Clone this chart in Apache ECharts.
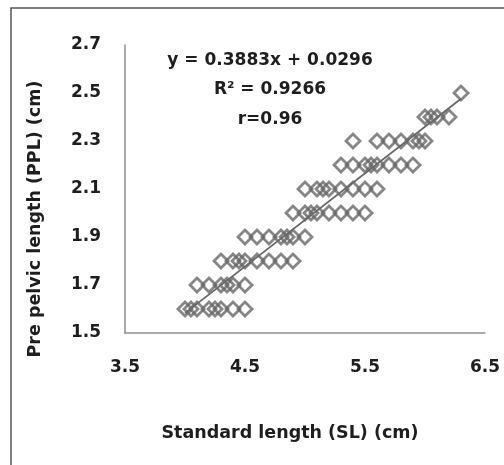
<!DOCTYPE html>
<html>
<head>
<meta charset="utf-8">
<script src="https://cdn.jsdelivr.net/npm/echarts@6/dist/echarts.min.js"></script>
<style>
  html, body { margin: 0; padding: 0; background: #fff; }
  #chart { width: 504px; height: 465px; }
</style>
</head>
<body>
<div id="chart"></div>
<script>
// standard length (SL) and pre pelvic length (PPL), cm, read row by row
var slValues = [
    4.0, 4.05, 4.1, 4.2, 4.25, 4.3, 4.4, 4.5,
    4.1, 4.2, 4.3, 4.35, 4.4, 4.5,
    4.3, 4.4, 4.45, 4.5, 4.6, 4.7, 4.8, 4.9,
    4.5, 4.6, 4.7, 4.8, 4.85, 4.9, 5.0,
    4.9, 5.0, 5.05, 5.1, 5.2, 5.3, 5.4, 5.5,
    5.0, 5.1, 5.15, 5.2, 5.3, 5.4, 5.5, 5.6,
    5.3, 5.4, 5.5, 5.55, 5.6, 5.7, 5.8, 5.9,
    5.4, 5.6, 5.7, 5.8, 5.9, 5.95, 6.0,
    6.0, 6.05, 6.1, 6.2,
    6.3
];
var pplValues = [
    1.6, 1.6, 1.6, 1.6, 1.6, 1.6, 1.6, 1.6,
    1.7, 1.7, 1.7, 1.7, 1.7, 1.7,
    1.8, 1.8, 1.8, 1.8, 1.8, 1.8, 1.8, 1.8,
    1.9, 1.9, 1.9, 1.9, 1.9, 1.9, 1.9,
    2.0, 2.0, 2.0, 2.0, 2.0, 2.0, 2.0, 2.0,
    2.1, 2.1, 2.1, 2.1, 2.1, 2.1, 2.1, 2.1,
    2.2, 2.2, 2.2, 2.2, 2.2, 2.2, 2.2, 2.2,
    2.3, 2.3, 2.3, 2.3, 2.3, 2.3, 2.3,
    2.4, 2.4, 2.4, 2.4,
    2.5
];
// linear trendline as printed on the chart
var slope = 0.3883;
var intercept = 0.0296;
var trendX = [4.0, 6.3];
var annotLines = ["y = 0.3883x + 0.0296", "R\u00b2 = 0.9266", "r=0.96"];

var xTitle = "Standard length (SL) (cm)";
var yTitle = "Pre pelvic length (PPL) (cm)";

var FONT = "'DejaVu Sans'";
var GREY = "#686868";
var INK = "#1e1e1e";

var points = slValues.map(function (x, i) { return [x, pplValues[i]]; });
var trend = trendX.map(function (x) { return [x, slope * x + intercept]; });

var chart = echarts.init(document.getElementById("chart"));
chart.setOption({
    backgroundColor: "#fff",
    animation: false,
    grid: { left: 125, right: 19, top: 45, bottom: 132 },
    xAxis: {
        type: "value",
        min: 3.5, max: 6.5, interval: 1,
        splitLine: { show: false },
        axisTick: { show: false },
        axisLine: { lineStyle: { color: "#8e8e8e", width: 1.5 } },
        axisLabel: {
            margin: 26, color: INK, fontFamily: FONT, fontWeight: "bold", fontSize: 17,
            formatter: function (v) { return v.toFixed(1); }
        }
    },
    yAxis: {
        type: "value",
        min: 1.5, max: 2.7, interval: 0.2,
        splitLine: { show: false },
        axisTick: { show: false },
        axisLine: { show: true, lineStyle: { color: "#8e8e8e", width: 1.5 } },
        axisLabel: {
            margin: 24, color: INK, fontFamily: FONT, fontWeight: "bold", fontSize: 17,
            formatter: function (v) { return v.toFixed(1); }
        }
    },
    series: [
        {
            type: "line",
            data: trend,
            symbol: "none",
            lineStyle: { color: GREY, width: 1.8 },
            z: 1
        },
        {
            type: "scatter",
            data: points,
            symbol: "diamond",
            symbolSize: [14, 14],
            itemStyle: { color: "rgba(255,255,255,0)", borderColor: GREY, borderWidth: 2.8 },
            z: 2
        }
    ],
    graphic: [
        {
            type: "rect",
            shape: { x: 11, y: 8, width: 510, height: 480 },
            style: { fill: "none", stroke: "#555", lineWidth: 1.5 },
            silent: true
        },
        {
            type: "text", x: 270, y: 61,
            style: { text: annotLines[0], font: "bold 17px " + FONT, fill: INK, align: "center", verticalAlign: "middle" }
        },
        {
            type: "text", x: 270, y: 90,
            style: { text: annotLines[1], font: "bold 17px " + FONT, fill: INK, align: "center", verticalAlign: "middle" }
        },
        {
            type: "text", x: 270, y: 120,
            style: { text: annotLines[2], font: "bold 17px " + FONT, fill: INK, align: "center", verticalAlign: "middle" }
        },
        {
            type: "text", x: 290, y: 433,
            style: { text: xTitle, font: "bold 17.5px " + FONT, fill: INK, align: "center", verticalAlign: "middle" }
        },
        {
            type: "text", x: 35, y: 219, rotation: Math.PI / 2,
            style: { text: yTitle, font: "bold 17.5px " + FONT, fill: INK, align: "center", verticalAlign: "middle" }
        }
    ]
});
</script>
</body>
</html>
